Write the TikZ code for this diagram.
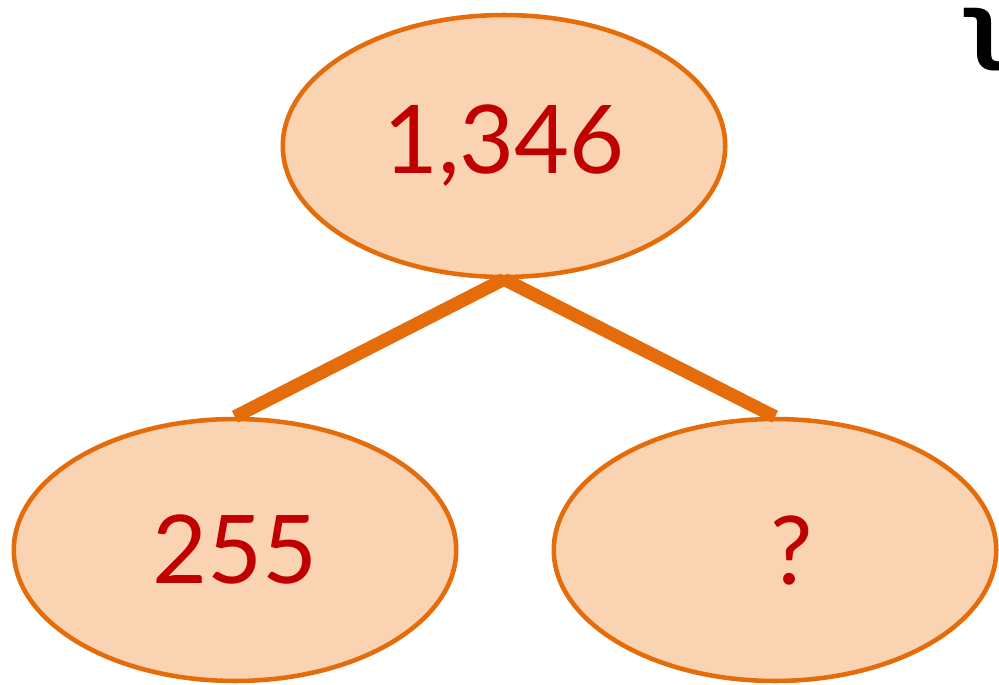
\documentclass[tikz,border=0pt]{standalone}
\usepackage{fontspec}
\setmainfont{Lato}
\newfontfamily\djfont{DejaVu Sans}
\usetikzlibrary{shapes.geometric,positioning}

\definecolor{myorange}{HTML}{E46C0A}
\definecolor{mypeach}{HTML}{FAD4B2}
\definecolor{myred}{HTML}{C00000}

\begin{document}
\begin{tikzpicture}[
  x=0.02cm, y=-0.02cm,
  myoval/.style={
    draw=myorange,
    line width=2.6pt,
    fill=mypeach,
    ellipse,
    minimum width=8.85cm,
    minimum height=5.24cm,
    text=myred,
    font=\fontsize{54}{56}\selectfont
    },
  myline/.style={
    draw=myorange,
    line width=7.5pt
  }
]

\useasboundingbox (0,0) rectangle (999,685);

\node [myoval] (top) at (504,146) {1,346};
\node [myoval] (left) at (235,550) {255};
\node [myoval] (right) at (775,550) {\hspace{0.35em}?};

\draw [myline] (top.south) -- (left.north);
\draw [myline] (top.south) -- (right.north);

% cut-off glyph at the page edge
\node [inner sep=0pt] (mark) at (982,40) {\djfont\bfseries\fontsize{46}{46}\selectfont ʅ};
\end{tikzpicture}
\end{document}
